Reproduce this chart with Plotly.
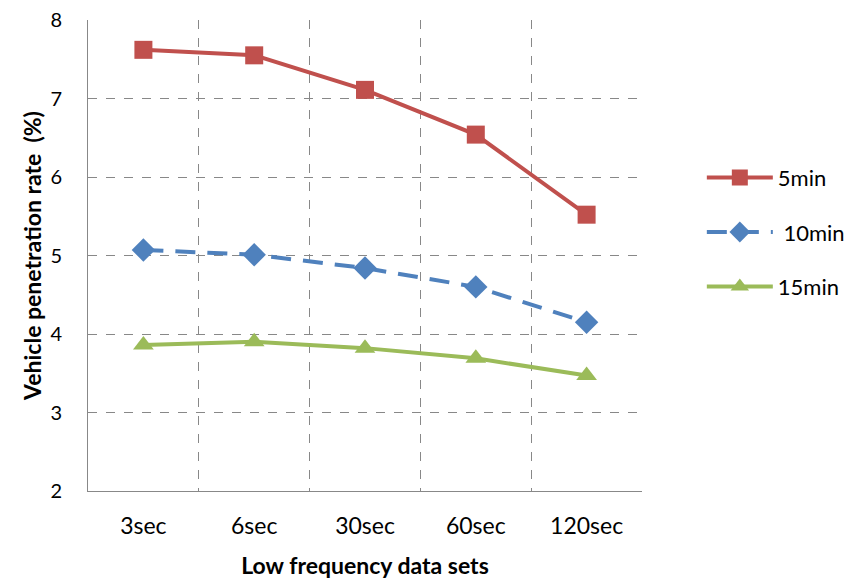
import plotly.graph_objects as go

categories = ["3sec", "6sec", "30sec", "60sec", "120sec"]
s5 = [7.62, 7.55, 7.11, 6.54, 5.52]
s10 = [5.07, 5.01, 4.84, 4.60, 4.15]
s15 = [3.86, 3.90, 3.82, 3.69, 3.47]
names = ["5min", " 10min", "15min"]

fig = go.Figure()
fig.add_trace(go.Scatter(x=categories, y=s5, name=names[0], mode="lines+markers",
                         legendgroup="a",
                         line=dict(color="#C0504D", width=4),
                         marker=dict(symbol="square", size=18, color="#C0504D")))
fig.add_trace(go.Scatter(x=categories, y=s10, name=names[1], mode="lines+markers",
                         legendgroup="b",
                         line=dict(color="#4F81BD", width=4, dash="20px,12px"),
                         marker=dict(symbol="diamond", size=18, color="#4F81BD")))
fig.add_trace(go.Scatter(x=categories, y=s15, name=names[2], mode="lines+markers",
                         legendgroup="c",
                         line=dict(color="#9BBB59", width=4),
                         marker=dict(symbol="triangle-up", size=18, color="#9BBB59")))

fig.update_layout(
    width=855, height=577,
    margin=dict(l=80, r=221, t=12, b=94),
    paper_bgcolor="white", plot_bgcolor="white",
    font=dict(family="Lato, Open Sans, sans-serif", size=22, color="black"),
    legend=dict(x=1.108, y=0.71, xanchor="left", yanchor="top",
                traceorder="grouped", tracegroupgap=23, itemwidth=66,
                font=dict(size=22), bgcolor="rgba(0,0,0,0)"),
    xaxis=dict(
        type="category", tickson="boundaries", range=[-0.5, 4.5],
        showgrid=True, gridcolor="#888888", griddash="dash", gridwidth=1,
        showline=True, linecolor="#888888", linewidth=1,
        ticks="", ticklabelstandoff=14, automargin=False,
        tickfont=dict(size=23),
        title=dict(text="<b>Low frequency data sets</b>", standoff=20, font=dict(size=23)),
    ),
    yaxis=dict(
        range=[2, 8], tickvals=[2, 3, 4, 5, 6, 7, 8],
        showgrid=True, gridcolor="#888888", griddash="dash", gridwidth=1,
        showline=True, linecolor="#888888", linewidth=1,
        ticks="", ticklabelstandoff=21, zeroline=False, automargin=False,
        ticklabeloverflow="allow",
        title=dict(text="<b>Vehicle penetration rate  (%)</b>", standoff=2, font=dict(size=23)),
        tickfont=dict(size=20),
    ),
)

fig.write_html("out.html")
